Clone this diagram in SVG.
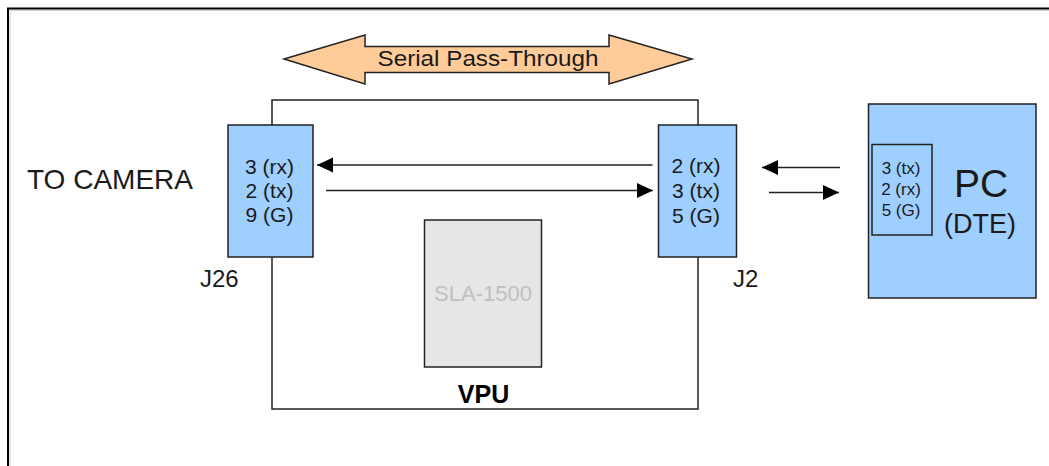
<svg xmlns="http://www.w3.org/2000/svg" width="1049" height="466" viewBox="0 0 1049 466">
<style>
text{font-family:"Liberation Sans",Arial,sans-serif;fill:#1a1a1a}
.box{fill:#9fcfff;stroke:#222;stroke-width:1.5}
.ln{stroke:#222;stroke-width:1.5;fill:none}
.pin{font-size:21px;text-anchor:middle}
.pin2{font-size:17px;text-anchor:middle}
.lbl{font-size:24px}
</style>
<defs>
<marker id="ah" viewBox="0 0 16 16" refX="16" refY="8" markerWidth="16" markerHeight="16" markerUnits="userSpaceOnUse" orient="auto">
<path d="M0,0.5 L16,8 L0,15.5 Z" fill="#000"/>
</marker>
</defs>
<rect width="1049" height="466" fill="#fff"/>
<path d="M10,466 V10.5 H1049" fill="none" stroke="#ccc" stroke-width="1"/>
<path d="M8,466 V8.5 H1049" fill="none" stroke="#000" stroke-width="2"/>

<g id="pass-through">
<path d="M284,59 L365,35 L365,46.5 L609,46.5 L609,35 L692,59 L609,84 L609,72.5 L365,72.5 L365,84 Z" fill="#ffcc99" stroke="#222" stroke-width="1.5"/>
<text x="488" y="66" font-size="22" text-anchor="middle" textLength="221" lengthAdjust="spacingAndGlyphs">Serial Pass-Through</text>
</g>

<g id="vpu">
<rect x="272" y="100" width="426" height="309" class="ln"/>
<text x="483.5" y="403" font-size="25" font-weight="bold" text-anchor="middle" style="fill:#000">VPU</text>
</g>

<g id="sla1500">
<rect x="424.5" y="220" width="117" height="147" fill="#e6e6e6" stroke="#222" stroke-width="1.5"/>
<text x="483" y="301" font-size="22" text-anchor="middle" style="fill:#c0c0c0">SLA-1500</text>
</g>

<g id="j26">
<rect x="228" y="125" width="85" height="132" class="box"/>
<text x="269.5" y="174" class="pin">3 (rx)</text>
<text x="269.5" y="197.5" class="pin">2 (tx)</text>
<text x="269.5" y="222" class="pin">9 (G)</text>
<text x="200" y="287" class="lbl">J26</text>
</g>

<g id="j2">
<rect x="658.5" y="125" width="78" height="132" class="box"/>
<text x="696" y="172.5" class="pin">2 (rx)</text>
<text x="696" y="197.5" class="pin">3 (tx)</text>
<text x="696" y="222.5" class="pin">5 (G)</text>
<text x="733" y="287" class="lbl">J2</text>
</g>

<g id="to-camera">
<text x="27" y="189" font-size="28">TO CAMERA</text>
</g>

<g id="pc">
<rect x="868.5" y="104" width="167.5" height="194" class="box"/>
<rect x="872" y="144.5" width="60" height="90.5" fill="none" stroke="#222" stroke-width="1.5"/>
<text x="901" y="174" class="pin2">3 (tx)</text>
<text x="901" y="195" class="pin2">2 (rx)</text>
<text x="901" y="215.5" class="pin2">5 (G)</text>
<text x="981" y="197" font-size="39" text-anchor="middle">PC</text>
<text x="980" y="233" font-size="27" text-anchor="middle">(DTE)</text>
</g>

<g id="connectors">
<line x1="652.5" y1="165" x2="317" y2="165" class="ln" marker-end="url(#ah)"/>
<line x1="326" y1="190.5" x2="653" y2="190.5" class="ln" marker-end="url(#ah)"/>
<line x1="840" y1="167.5" x2="762" y2="167.5" class="ln" marker-end="url(#ah)"/>
<line x1="769" y1="192.5" x2="839" y2="192.5" class="ln" marker-end="url(#ah)"/>
</g>
</svg>
